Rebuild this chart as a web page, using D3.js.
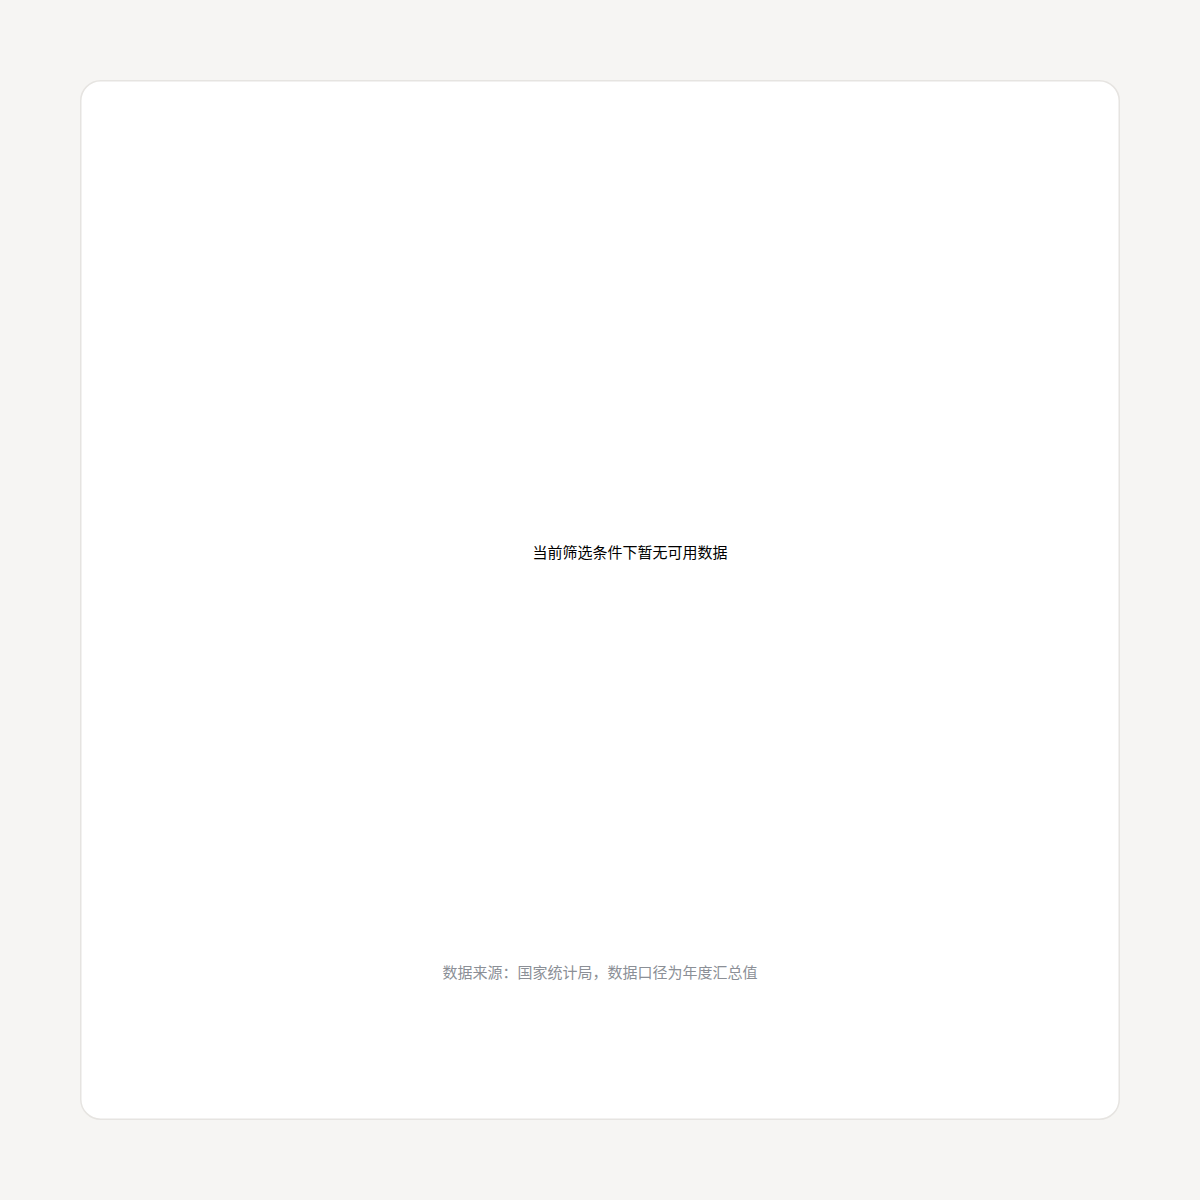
<!DOCTYPE html>
<html>
<head>
<meta charset="utf-8">
<script src="https://cdn.jsdelivr.net/npm/d3@7"></script>
<style>
  html, body { margin: 0; padding: 0; background: #f6f5f3; }
  body { width: 1200px; height: 1200px; }
  svg { display: block; }
</style>
</head>
<body>
<svg id="chart" width="1200" height="1200"></svg>
<script>
// Data: the reference chart shows no data marks, only a placeholder message and a note
const categories = [];
const values = [];
const emptyMessage = "当前筛选条件下暂无可用数据";
const sourceNote = "数据来源：国家统计局，数据口径为年度汇总值";

const svg = d3.select("#chart");
const W = 1200, H = 1200;
const card = { x: 80, y: 80, w: 1040, h: 1040 };
const margin = { top: 100, right: 40, bottom: 160, left: 100 };

svg.append("rect")
  .attr("x", card.x + 0.75).attr("y", card.y + 0.75)
  .attr("width", card.w - 1.5).attr("height", card.h - 1.5)
  .attr("rx", 20).attr("ry", 20)
  .attr("fill", "#ffffff")
  .attr("stroke", "#e6e4e1")
  .attr("stroke-width", 1.5);

const inner = {
  x0: card.x + margin.left,
  x1: card.x + card.w - margin.right,
  y0: card.y + margin.top,
  y1: card.y + card.h - margin.bottom
};

const x = d3.scaleBand().domain(categories).range([inner.x0, inner.x1]).padding(0.2);
const y = d3.scaleLinear().domain([0, d3.max(values) || 1]).range([inner.y1, inner.y0]);

const g = svg.append("g");
const fontFamily = "'Noto Sans CJK SC', 'DejaVu Sans', sans-serif";

if (values.length) {
  g.selectAll("rect.bar").data(values).join("rect")
    .attr("class", "bar")
    .attr("x", (d, i) => x(categories[i]))
    .attr("y", d => y(d))
    .attr("width", x.bandwidth())
    .attr("height", d => y(0) - y(d))
    .attr("fill", "#4e79a7");
} else {
  g.append("text")
    .attr("x", (inner.x0 + inner.x1) / 2)
    .attr("y", 558)
    .attr("text-anchor", "middle")
    .attr("font-family", fontFamily)
    .attr("font-size", 15)
    .attr("fill", "#000000")
    .text(emptyMessage);
}

svg.append("text")
  .attr("x", W / 2)
  .attr("y", 978)
  .attr("text-anchor", "middle")
  .attr("font-family", fontFamily)
  .attr("font-size", 15)
  .attr("fill", "#8b8f96")
  .text(sourceNote);
</script>
</body>
</html>
